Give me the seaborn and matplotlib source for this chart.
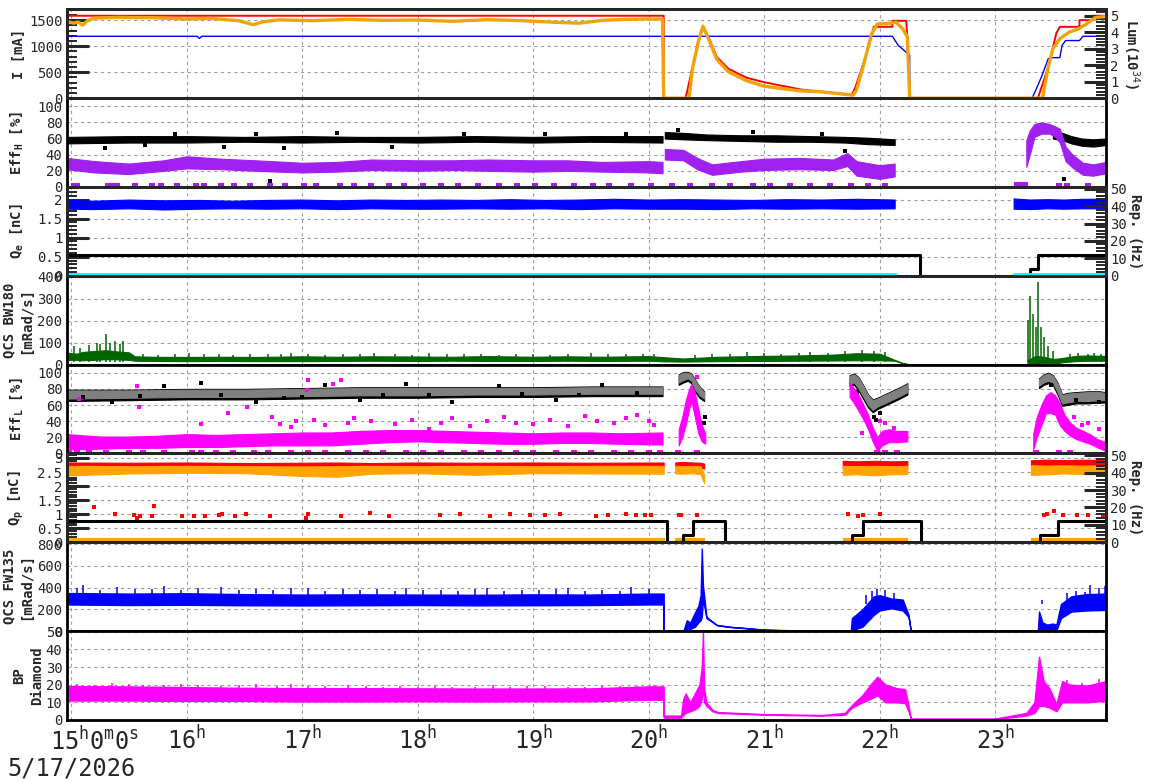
import numpy as np
import pandas as pd
import seaborn as sns
import matplotlib.pyplot as plt
from matplotlib.ticker import MultipleLocator

# time axis in hours (5/17/2026)
t_start, t_end = 14.961, 23.957
hour_ticks = [15, 16, 17, 18, 19, 20, 21, 22, 23]

# ---- panel 1: ring currents [mA] and luminosity [1e34] ----
ler_t = [14.96, 20.13, 20.13, 20.32, 20.38, 20.43, 20.47, 20.53, 20.59, 20.69, 20.85, 21.0, 21.32,
         21.63, 21.76, 21.79, 21.86, 21.92, 21.95, 22.11, 22.11, 22.23, 22.25, 22.26, 23.37, 23.46,
         23.53, 23.56, 23.73, 23.73, 23.85, 23.85, 23.96]
ler_i = [1585, 1585, 0, 0, 597, 1114, 1386, 1114, 791, 566, 391, 306, 165,
         93, 68, 209, 667, 1114, 1372, 1372, 1488, 1488, 800, 0, 0, 597,
         1250, 1372, 1372, 1500, 1500, 1585, 1585]
her_t = [14.96, 16.09, 16.11, 16.13, 22.11, 22.16, 22.26, 22.26, 23.32, 23.35, 23.40, 23.46, 23.49,
         23.56, 23.58, 23.61, 23.73, 23.76, 23.96]
her_i = [1190, 1190, 1147, 1190, 1190, 1018, 824, 0, 0, 145, 403, 760, 779,
         779, 1017, 1108, 1108, 1190, 1190]
lum_t = [14.96, 15.02, 15.06, 15.10, 15.14, 15.20, 15.40, 15.70, 16.00, 16.20, 16.45, 16.58, 16.65,
         16.80, 17.10, 17.40, 17.70, 18.00, 18.30, 18.60, 18.90, 19.20, 19.40, 19.60, 19.80, 20.00,
         20.12, 20.13, 20.35, 20.38, 20.43, 20.47, 20.53, 20.59, 20.69, 20.85, 21.00, 21.30, 21.50,
         21.77, 21.80, 21.86, 21.93, 21.98, 22.11, 22.14, 22.20, 22.24, 22.26, 23.41, 23.46, 23.50,
         23.56, 23.64, 23.72, 23.79, 23.87, 23.96]
lum_v = [4.66, 4.55, 4.62, 4.43, 4.70, 4.85, 4.90, 4.88, 4.80, 4.84, 4.70, 4.45, 4.62,
         4.75, 4.70, 4.78, 4.72, 4.74, 4.66, 4.76, 4.70, 4.60, 4.55, 4.72, 4.78, 4.80,
         4.80, 0.0, 0.0, 1.8, 3.4, 4.37, 3.4, 2.35, 1.6, 1.05, 0.72, 0.45, 0.38,
         0.18, 0.5, 2.0, 3.9, 4.5, 4.55, 4.62, 4.2, 3.72, 0.0, 0.0, 1.89, 3.0,
         3.6, 4.0, 4.2, 4.5, 4.9, 4.95]

# ---- panel 2: Eff_H [%] (black / purple bands) ----
effh_k_t = [[14.96, 15.5, 16.0, 16.5, 17.0, 17.5, 18.0, 18.5, 19.0, 19.5, 20.12],
            [20.14, 20.3, 20.5, 20.8, 21.1, 21.4, 21.7, 21.9, 22.13],
            [23.50, 23.58, 23.66, 23.75, 23.85, 23.96]]
effh_k_lo = [[54, 55, 55, 56, 55, 56, 55, 56, 55, 56, 55],
             [60, 59, 58, 57, 56, 56, 55, 53, 52],
             [60, 58, 54, 51, 50, 52]]
effh_k_hi = [[62, 63, 63, 62, 63, 62, 62, 63, 62, 63, 63],
             [68, 67, 65, 64, 64, 63, 62, 61, 59],
             [69, 67, 63, 60, 59, 60]]
effh_p_t = [[14.96, 15.2, 15.5, 15.8, 16.0, 16.3, 16.6, 17.0, 17.3, 17.6, 18.0, 18.3, 18.6,
             19.0, 19.3, 19.6, 20.0, 20.12],
            [20.14, 20.3, 20.42, 20.55, 20.8, 21.0, 21.3, 21.6, 21.72, 21.8, 22.0, 22.13],
            [23.27, 23.30, 23.34, 23.40, 23.47, 23.52, 23.56, 23.61, 23.67, 23.76, 23.85, 23.96]]
effh_p_lo = [[22, 18, 16, 20, 23, 22, 20, 18, 19, 21, 20, 21, 20, 19, 20, 19, 18, 17],
             [34, 33, 22, 15, 19, 21, 22, 21, 26, 14, 10, 13],
             [25, 40, 62, 66, 66, 62, 55, 32, 24, 15, 14, 17]]
effh_p_hi = [[36, 32, 29, 33, 38, 35, 33, 30, 31, 34, 33, 33, 34, 33, 33, 31, 32, 31],
             [47, 46, 36, 28, 32, 35, 36, 34, 42, 32, 27, 29],
             [58, 70, 78, 80, 78, 75, 72, 50, 40, 30, 28, 31]]
effh_zero_t = [15.02, 15.05, 15.32, 15.36, 15.40, 15.55, 15.70, 15.78, 15.92, 16.08, 16.15,
               16.30, 16.41, 16.55, 16.72, 16.85, 17.02, 17.12, 17.33, 17.45, 17.60, 17.75,
               17.88, 18.05, 18.20, 18.35, 18.52, 18.70, 18.86, 19.02, 19.18, 19.35, 19.52,
               19.66, 19.85, 20.02, 20.20, 20.36, 20.55, 20.70, 20.90, 21.05, 21.22, 21.40,
               21.57, 21.75, 21.90, 22.05, 23.55, 23.62, 23.80]
effh_out_t = [15.29, 15.64, 16.32, 16.84, 17.78, 16.72, 21.70, 23.60, 15.9, 16.6, 17.3, 18.4,
              19.1, 19.8, 20.25, 20.9, 21.5]
effh_out_v = [48, 52, 50, 48, 50, 7, 44, 10, 66, 65, 67, 66, 65, 66, 70, 68, 66]

# ---- panel 3: Q_e [nC] and repetition rate [Hz] ----
qe_t = [[14.96, 15.2, 15.5, 15.8, 16.1, 16.4, 16.7, 17.0, 17.3, 17.6, 17.9, 18.2, 18.5, 18.8,
         19.1, 19.4, 19.7, 20.0, 20.3, 20.6, 20.9, 21.2, 21.5, 21.8, 22.13],
        [23.16, 23.3, 23.45, 23.6, 23.75, 23.96]]
qe_lo = [[1.76, 1.75, 1.77, 1.74, 1.76, 1.77, 1.76, 1.77, 1.75, 1.77, 1.76, 1.76, 1.77, 1.76,
          1.77, 1.75, 1.77, 1.76, 1.76, 1.75, 1.77, 1.76, 1.77, 1.76, 1.77],
         [1.76, 1.75, 1.77, 1.76, 1.77, 1.77]]
qe_hi = [[1.99, 1.97, 2.0, 1.98, 1.99, 1.97, 1.99, 2.0, 1.98, 2.0, 1.99, 2.0, 1.99, 2.01,
          1.99, 2.0, 2.02, 2.0, 2.01, 2.0, 1.99, 2.01, 2.0, 2.02, 2.0],
         [2.03, 2.0, 2.01, 2.0, 2.02, 2.02]]
rep_e_t = [14.96, 22.35, 22.35, 23.30, 23.30, 23.37, 23.37, 23.96]
rep_e_v = [12, 12, 0, 0, 4, 4, 12, 12]
cyan_t = [[14.96, 22.13], [23.16, 23.96]]

# ---- panel 4: QCS BW180 [mRad/s] ----
bw_t = [[14.96, 15.05, 15.1, 15.2, 15.3, 15.4, 15.5, 15.55, 15.7, 16.0, 16.3, 16.6, 17.0, 17.3,
         17.6, 18.0, 18.3, 18.6, 19.0, 19.3, 19.6, 20.0, 20.13, 20.3, 20.6, 21.0, 21.3, 21.6,
         21.8, 22.0, 22.13, 22.2, 22.27, 23.28],
        [23.28, 23.35, 23.42, 23.5, 23.55, 23.6, 23.7, 23.8, 23.96]]
bw_lo = [[22, 22, 20, 22, 25, 24, 22, 18, 17, 16, 17, 16, 16, 17, 18, 17, 18, 17, 17, 18, 17,
          18, 15, 14, 16, 17, 18, 19, 20, 20, 18, 6, 0, 0],
         [0, 5, 6, 5, 8, 12, 16, 18, 18]]
bw_hi = [[55, 50, 58, 62, 66, 60, 56, 38, 36, 35, 36, 35, 38, 36, 38, 37, 36, 39, 36, 38, 36,
          39, 34, 28, 36, 40, 42, 46, 52, 50, 22, 8, 0, 0],
         [20, 40, 36, 26, 28, 32, 40, 42, 40]]
bw_spk_t = [15.02, 15.08, 15.15, 15.22, 15.25, 15.30, 15.34, 15.38, 15.42, 15.45, 15.62, 15.75,
            15.9, 16.02, 16.15, 16.28, 16.4, 16.55, 16.7, 16.82, 16.9, 17.05, 17.2, 17.35,
            17.5, 17.62, 17.8, 17.95, 18.1, 18.25, 18.4, 18.55, 18.7, 18.85, 19.0, 19.15,
            19.3, 19.5, 19.65, 19.8, 19.95, 20.05, 20.4, 20.55, 20.7, 20.85, 21.0, 21.15,
            21.3, 21.4, 21.55, 21.7, 21.85, 21.95, 22.05, 23.287, 23.304, 23.330, 23.353,
            23.373, 23.394, 23.422, 23.460, 23.503, 23.65, 23.72, 23.8, 23.86, 23.92]
bw_spk_v = [85, 75, 88, 100, 95, 140, 100, 110, 95, 110, 48, 46, 50, 55, 47, 49, 46, 50, 47,
            48, 52, 49, 46, 50, 47, 51, 48, 46, 54, 48, 47, 50, 46, 49, 48, 46, 50, 55, 47,
            49, 48, 50, 45, 48, 50, 58, 52, 50, 54, 56, 55, 60, 68, 62, 58, 203, 315, 233, 173,
            375, 173, 128, 87, 60, 50, 52, 48, 55, 50]

# ---- panel 5: Eff_L [%] ----
effl_g_t = [[14.96, 15.5, 16.0, 16.5, 17.0, 17.5, 18.0, 18.5, 19.0, 19.5, 20.12],
            [20.26, 20.30, 20.34, 20.37, 20.40, 20.44, 20.48],
            [21.74, 21.78, 21.82, 21.86, 21.90, 21.94, 21.98, 22.04, 22.10, 22.16, 22.24],
            [23.38, 23.42, 23.46, 23.50, 23.54, 23.58, 23.62, 23.70, 23.80, 23.90, 23.96]]
effl_g_lo = [[68, 69, 70, 70, 71, 72, 72, 73, 73, 74, 74],
             [88, 91, 93, 90, 80, 72, 68],
             [86, 88, 80, 70, 60, 54, 58, 62, 66, 70, 76],
             [84, 88, 90, 88, 76, 62, 63, 65, 65, 66, 66]]
effl_g_hi = [[78, 78, 79, 79, 80, 81, 81, 81, 81, 82, 82],
             [97, 100, 100, 98, 91, 82, 76],
             [96, 98, 93, 83, 72, 66, 68, 72, 76, 80, 86],
             [92, 97, 99, 96, 87, 72, 74, 75, 76, 76, 75]]
effl_m_t = [[14.96, 15.25, 15.5, 15.75, 16.0, 16.25, 16.5, 16.75, 17.0, 17.25, 17.5, 17.75, 18.0,
             18.25, 18.5, 18.75, 19.0, 19.25, 19.5, 19.75, 20.12],
            [20.26, 20.29, 20.32, 20.35, 20.37, 20.40, 20.43, 20.46, 20.49],
            [21.74, 21.78, 21.82, 21.86, 21.90, 21.94, 21.98, 22.02, 22.08, 22.14, 22.24],
            [23.33, 23.36, 23.40, 23.44, 23.48, 23.52, 23.56, 23.60, 23.65, 23.70, 23.76, 23.82,
             23.88, 23.96]]
effl_m_lo = [[5, 6, 7, 7, 8, 8, 9, 10, 10, 10, 12, 14, 15, 14, 13, 12, 12, 13, 13, 12, 11],
             [10, 20, 35, 55, 65, 45, 25, 15, 12],
             [70, 62, 52, 42, 30, 15, 3, 10, 14, 14, 15],
             [5, 20, 35, 50, 50, 48, 35, 28, 22, 18, 15, 12, 8, 3]]
effl_m_hi = [[24, 21, 21, 22, 24, 23, 24, 25, 26, 26, 28, 29, 29, 28, 27, 26, 25, 26, 26, 25, 26],
             [30, 45, 65, 80, 86, 75, 55, 35, 25],
             [88, 80, 72, 60, 48, 32, 20, 28, 30, 28, 28],
             [25, 45, 60, 72, 76, 72, 62, 48, 38, 32, 28, 24, 18, 14]]
effl_mo_t = [15.07, 15.57, 15.59, 16.12, 16.36, 16.52, 16.74, 16.81, 16.9, 16.95, 17.04, 17.05,
             17.1, 17.2, 17.27, 17.34, 17.4, 17.45, 17.6, 17.8, 17.95, 18.1, 18.2, 18.3, 18.45,
             18.6, 18.75, 18.85, 19.0, 19.15, 19.3, 19.45, 19.55, 19.7, 19.8, 19.9, 20.0, 20.05,
             20.3, 20.42, 21.85, 21.92, 22.0, 22.05, 22.12, 23.45, 23.55, 23.62, 23.68, 23.75,
             23.8, 23.9]
effl_mo_v = [68, 83, 58, 37, 50, 58, 45, 37, 33, 40, 78, 91, 42, 35, 86, 91, 38, 44, 40, 36,
             42, 30, 38, 44, 34, 40, 45, 38, 36, 42, 34, 46, 40, 38, 44, 48, 40, 35,
             30, 95, 25, 35, 40, 38, 32, 55, 50, 40, 45, 35, 38, 30]
effl_ko_t = [15.35, 15.8, 16.12, 16.6, 16.84, 17.2, 17.5, 17.9, 18.3, 18.7, 19.2, 19.6, 20.48,
             20.49, 21.80, 21.95, 21.97, 22.0, 23.48, 23.7, 23.9, 15.1, 15.6, 16.3, 17.0,
             17.7, 18.1, 18.9, 19.4, 19.9]
effl_ko_v = [64, 84, 87, 64, 69, 85, 66, 86, 64, 84, 66, 85, 38, 45, 76, 45, 42, 50, 85, 66, 64,
             70, 71, 72, 70, 73, 72, 74, 73, 75]
effl_zero_t = [14.98, 15.05, 15.15, 15.3, 15.5, 15.62, 15.8, 16.05, 16.12, 16.25, 16.4, 16.58,
               16.7, 16.9, 17.05, 17.2, 17.4, 17.55, 17.7, 17.9, 18.05, 18.2, 18.4, 18.55, 18.7,
               18.85, 19.0, 19.2, 19.35, 19.5, 19.7, 19.85, 20.0, 20.1, 20.25, 20.42, 21.98,
               22.05, 22.15, 23.35, 23.55, 23.65]

# ---- panel 6: Q_p [nC] and repetition rate [Hz] ----
qp_seg = [[14.96, 15.5, 16.0, 16.5, 17.0, 17.3, 17.6, 18.0, 18.5, 19.0, 19.5, 20.13],
          [20.23, 20.30, 20.38, 20.45, 20.48],
          [21.68, 21.8, 21.95, 22.1, 22.24],
          [23.31, 23.45, 23.6, 23.75, 23.96]]
qp_r_lo = [[2.66, 2.67, 2.66, 2.67, 2.66, 2.66, 2.67, 2.66, 2.67, 2.66, 2.67, 2.66],
           [2.66, 2.67, 2.66, 2.66, 2.62],
           [2.66, 2.67, 2.66, 2.67, 2.66],
           [2.68, 2.69, 2.68, 2.69, 2.68]]
qp_r_hi = [[2.84, 2.83, 2.84, 2.82, 2.83, 2.84, 2.82, 2.84, 2.83, 2.84, 2.83, 2.84],
           [2.84, 2.86, 2.84, 2.83, 2.80],
           [2.90, 2.88, 2.90, 2.88, 2.89],
           [2.92, 2.94, 2.92, 2.94, 2.93]]
qp_o_lo = [[2.38, 2.45, 2.47, 2.46, 2.36, 2.33, 2.44, 2.46, 2.40, 2.46, 2.45, 2.44],
           [2.45, 2.44, 2.46, 2.42, 2.10],
           [2.40, 2.42, 2.38, 2.42, 2.43],
           [2.40, 2.42, 2.45, 2.43, 2.42]]
qp_o_hi = [[2.72, 2.71, 2.72, 2.71, 2.70, 2.71, 2.72, 2.71, 2.72, 2.71, 2.72, 2.72],
           [2.72, 2.71, 2.72, 2.70, 2.40],
           [2.72, 2.71, 2.72, 2.71, 2.72],
           [2.74, 2.73, 2.74, 2.73, 2.74]]
qp_low_lo = 0.03
qp_low_hi = 0.15
qp_red_t = [14.97, 15.2, 15.38, 15.54, 15.57, 15.6, 15.7, 15.72, 15.96, 16.06, 16.16, 16.28,
            16.31, 16.42, 16.51, 16.72, 17.03, 17.05, 17.34, 17.59, 17.75, 18.19, 18.37, 18.63,
            18.80, 18.97, 19.10, 19.23, 19.54, 19.65, 19.80, 19.89, 19.97, 20.02, 20.26, 20.28,
            20.42, 21.73, 21.81, 21.86, 22.0, 23.42, 23.45, 23.51, 23.59, 23.71, 23.80, 23.93]
qp_red_v = [1.02, 1.24, 1.0, 0.98, 0.85, 0.92, 0.92, 1.3, 0.95, 0.93, 0.95, 0.98, 1.0, 0.95,
            1.02, 0.92, 0.88, 1.0, 0.95, 1.05, 0.92, 0.97, 1.0, 0.95, 1.02, 0.96, 0.98, 1.0,
            0.95, 0.96, 1.0, 0.96, 0.98, 0.96, 0.97, 0.97, 0.96, 1.0, 0.94, 0.96, 1.0, 0.96,
            1.0, 1.12, 0.98, 0.96, 0.96, 0.96]
rep_p_t = [14.96, 20.16, 20.16, 20.30, 20.30, 20.38, 20.38, 20.66, 20.66, 21.76, 21.76, 21.86,
           21.86, 22.36, 22.36, 23.39, 23.39, 23.54, 23.54, 23.96]
rep_p_v = [12, 12, 0, 0, 4, 4, 12, 12, 0, 0, 4, 4, 12, 12, 0, 0, 4, 4, 12, 12]

# ---- panel 7: QCS FW135 [mRad/s] ----
fw_t = [14.96, 15.5, 16.0, 16.5, 17.0, 17.5, 18.0, 18.5, 19.0, 19.5, 20.0, 20.13, 20.13, 20.30,
        20.33, 20.36, 20.40, 20.43, 20.45, 20.46, 20.47, 20.50, 20.53, 20.59, 20.69, 20.84, 21.0,
        21.16, 21.4, 21.6, 21.75, 21.76, 21.85, 21.95, 22.0, 22.1, 22.2, 22.25, 22.27, 23.37,
        23.38, 23.41, 23.45, 23.50, 23.53, 23.57, 23.66, 23.79, 23.96]
fw_lo = [245, 240, 242, 238, 236, 238, 240, 237, 238, 240, 245, 245, 0, 0,
         10, 20, 40, 80, 100, 130, 300, 120, 100, 55, 39, 27, 12,
         9, 5, 3, 2, 10, 40, 150, 190, 210, 190, 130, 0, 0,
         0, 5, 10, 8, 5, 120, 180, 190, 195]
fw_hi = [350, 345, 348, 340, 336, 338, 336, 334, 338, 336, 345, 345, 0, 0,
         100, 80, 170, 230, 330, 758, 420, 135, 105, 58, 42, 29, 14,
         10, 6, 4, 3, 120, 200, 320, 330, 300, 290, 150, 0, 0,
         180, 80, 60, 70, 60, 250, 320, 340, 345]
fw_spk_t = [15.05, 15.1, 15.25, 15.4, 15.55, 15.7, 15.8, 15.95, 16.1, 16.3, 16.45, 16.6,
            16.75, 16.9, 17.05, 17.2, 17.35, 17.5, 17.65, 17.8, 17.9, 18.05, 18.2, 18.35,
            18.5, 18.6, 18.75, 18.9, 19.05, 19.2, 19.3, 19.45, 19.6, 19.75, 19.85, 20.0,
            21.88, 21.93, 21.98, 22.05, 22.12, 23.41, 23.62, 23.7, 23.78, 23.82, 23.9, 23.95]
fw_spk_v = [395, 420, 380, 410, 385, 390, 415, 380, 400, 405, 375, 385, 380, 395, 400, 372,
            385, 378, 390, 370, 395, 375, 380, 370, 385, 400, 372, 380, 376, 385, 395, 370,
            380, 372, 405, 385, 330, 370, 390, 380, 350, 284, 350, 370, 360, 420, 400, 415]

# ---- panel 8: BP Diamond ----
bp_t = [14.96, 15.5, 16.0, 16.5, 17.0, 17.5, 18.0, 18.5, 19.0, 19.5, 20.0, 20.13, 20.13, 20.28,
        20.30, 20.32, 20.36, 20.40, 20.44, 20.46, 20.47, 20.48, 20.50, 20.55, 20.6, 21.0, 21.5,
        21.7, 21.76, 21.85, 21.92, 21.98, 22.05, 22.15, 22.22, 22.25, 22.27, 23.0, 23.27, 23.34,
        23.38, 23.42, 23.47, 23.53, 23.58, 23.65, 23.8, 23.96]
bp_lo = [11.0, 11.0, 10.8, 10.8, 10.5, 10.5, 10.6, 10.5, 10.6, 10.6, 11.5, 11.5, 1.3, 1.3,
         3.0, 4.0, 5.0, 6.0, 8.0, 12.0, 20.0, 10.0, 8.0, 5.0, 4.0, 3.0, 2.5,
         3.0, 7.0, 10.0, 12.0, 14.0, 10.0, 10.0, 9.5, 5.0, 0.5, 0.5, 2.5, 4.0,
         8.0, 8.0, 7.0, 5.0, 10.0, 10.0, 10.0, 11.0]
bp_hi = [19.2, 19.0, 18.6, 18.2, 18.0, 18.0, 17.9, 17.8, 17.8, 17.9, 19.0, 19.0, 2.5, 2.5,
         12.0, 15.0, 10.0, 15.0, 20.0, 30.0, 50.0, 18.0, 10.0, 5.8, 4.5, 3.3, 2.8,
         4.0, 8.5, 14.0, 20.0, 24.5, 20.0, 18.0, 17.5, 8.0, 0.8, 0.8, 4.0, 10.0,
         35.8, 22.0, 18.0, 9.0, 22.0, 20.0, 19.5, 22.0]
bp_spk_t = [15.05, 15.2, 15.35, 15.5, 15.62, 15.8, 15.95, 16.1, 16.3, 16.45, 16.6, 16.78,
            16.9, 17.05, 17.2, 17.4, 17.55, 17.7, 17.85, 18.0, 18.15, 18.3, 18.5, 18.65, 18.8,
            18.95, 19.1, 19.3, 19.45, 19.6, 19.75, 19.9, 20.05, 23.62, 23.75, 23.9]
bp_spk_v = [20.5, 20.0, 21.2, 20.4, 20.0, 19.8, 20.2, 19.6, 19.4, 19.8, 20.2, 19.5, 20.4, 19.2,
            19.0, 19.6, 19.2, 18.8, 19.2, 18.9, 19.4, 18.8, 18.9, 19.6, 18.8, 19.0, 19.2, 18.9,
            18.8, 19.3, 19.0, 19.5, 19.8, 22.5, 21.0, 23.0]

sns.set_theme(style='white')
plt.rcParams['font.family'] = ['DejaVu Sans Mono', 'DejaVu Sans']
plt.rcParams['mathtext.fontset'] = 'custom'
plt.rcParams['mathtext.rm'] = 'DejaVu Sans Mono'
plt.rcParams['mathtext.it'] = 'DejaVu Sans Mono'
plt.rcParams['mathtext.bf'] = 'DejaVu Sans Mono:bold'

fig, axes = plt.subplots(8, 1, sharex=True, figsize=(11.72, 7.82), dpi=100)
fig.subplots_adjust(left=0.0569, right=0.9434, top=0.9881, bottom=0.0793, hspace=0)

RED, ORANGE, BLUE = '#ff0000', '#f0a30a', '#0000ff'
PURPLE, MAGENTA, GREEN = '#a020f0', '#ff00ff', '#006400'


def line(ax, t, v, color, lw):
    sns.lineplot(x=t, y=v, color=color, linewidth=lw, estimator=None, sort=False,
                 ax=ax, legend=False)


def dots(ax, t, v, color, s=9):
    sns.scatterplot(x=t, y=v, color=color, marker='s', s=s, linewidth=0, ax=ax, legend=False)


def band(ax, t, lo, hi, color, lw=0.8):
    ax.fill_between(t, lo, hi, color=color, linewidth=lw, edgecolor=color)


def style(ax, ylim, ticks, labels, minor, ylabel, lx=-0.039):
    ax.set_ylim(*ylim)
    ax.set_yticks(ticks)
    ax.set_yticklabels(labels)
    ax.yaxis.set_minor_locator(MultipleLocator(minor))
    ax.tick_params(axis='y', which='major', direction='in', length=16, width=2.2,
                   labelsize=10, pad=3, right=False)
    ax.tick_params(axis='y', which='minor', direction='in', length=7, width=1.4, right=False)
    ax.tick_params(axis='x', which='major', direction='in', length=7, width=2, top=False)
    ax.tick_params(axis='x', which='minor', direction='in', length=3.5, width=1.4, top=False)
    ax.grid(True, which='major', color='#a0a0a0', linestyle=(0, (3, 3)), linewidth=0.8)
    for sp in ax.spines.values():
        sp.set_linewidth(2)
        sp.set_color('black')
    ax.set_ylabel(ylabel, fontsize=10, fontweight='bold', linespacing=1.3)
    ax.yaxis.set_label_coords(lx, 0.5)


def right_axis(ax, ylim, ticks, minor, label):
    r = ax.twinx()
    r.set_ylim(*ylim)
    r.set_yticks(ticks)
    r.yaxis.set_minor_locator(MultipleLocator(minor))
    r.tick_params(axis='y', which='major', direction='in', length=16, width=2.2,
                  labelsize=10, pad=3)
    r.tick_params(axis='y', which='minor', direction='in', length=7, width=1.4)
    r.set_ylabel(label, fontsize=10, fontweight='bold', rotation=270)
    r.yaxis.set_label_coords(1.035, 0.5)
    r.grid(False)
    for sp in r.spines.values():
        sp.set_linewidth(2)
    return r


# panel 1
ax = axes[0]
style(ax, (0, 1709), [0, 500, 1000, 1500], ['0', '500', '1000', '1500'], 100, 'I [mA]')
axr = right_axis(ax, (0, 5.39), [0, 1, 2, 3, 4, 5], 0.2, 'Lum(10$^{34}$)')
line(axr, lum_t, lum_v, ORANGE, 2.4)
line(ax, ler_t, ler_i, RED, 1.4)
line(ax, her_t, her_i, BLUE, 1.0)

# panel 2
ax = axes[1]
style(ax, (0, 110), [0, 20, 40, 60, 80, 100], ['0', '20', '40', '60', '80', '100'], 4,
      'Eff$_\\mathbf{H}$ [%]')
for t, lo, hi in zip(effh_k_t, effh_k_lo, effh_k_hi):
    band(ax, t, lo, hi, 'black')
for t, lo, hi in zip(effh_p_t, effh_p_lo, effh_p_hi):
    band(ax, t, lo, hi, PURPLE)
dots(ax, effh_zero_t, [0.6] * len(effh_zero_t), PURPLE, 14)
dots(ax, effh_out_t, effh_out_v, 'black', 9)
band(ax, [23.16, 23.28], [0, 0], [6, 6], PURPLE)

# panel 3
ax = axes[2]
style(ax, (0, 2.33), [0, 0.5, 1, 1.5, 2], ['0', '0.5', '1', '1.5', '2'], 0.1,
      'Q$_\\mathbf{e}$ [nC]')
for t, lo, hi in zip(qe_t, qe_lo, qe_hi):
    band(ax, t, lo, hi, BLUE)
axr = right_axis(ax, (0, 51), [0, 10, 20, 30, 40, 50], 2, 'Rep. (Hz)')
line(axr, rep_e_t, rep_e_v, 'black', 2.2)
for t in cyan_t:
    line(axr, t, [0.7, 0.7], '#00ffff', 3.5)

# panel 4
ax = axes[3]
style(ax, (0, 405), [0, 100, 200, 300, 400], ['0', '100', '200', '300', '400'], 20,
      'QCS BW180\n[mRad/s]', -0.032)
for t, lo, hi in zip(bw_t, bw_lo, bw_hi):
    band(ax, t, lo, hi, GREEN)
ax.vlines(bw_spk_t, 10, bw_spk_v, color=GREEN, linewidth=1.1)

# panel 5
ax = axes[4]
style(ax, (0, 110), [0, 20, 40, 60, 80, 100], ['0', '20', '40', '60', '80', '100'], 4,
      'Eff$_\\mathbf{L}$ [%]')
for t, lo, hi in zip(effl_g_t, effl_g_lo, effl_g_hi):
    band(ax, t, [v - 3 for v in lo], [v + 1 for v in hi], 'black')
    band(ax, t, lo, hi, '#808080')
dots(ax, effl_ko_t, effl_ko_v, 'black', 10)
for t, lo, hi in zip(effl_m_t, effl_m_lo, effl_m_hi):
    band(ax, t, lo, hi, MAGENTA)
dots(ax, effl_mo_t, effl_mo_v, MAGENTA, 12)
dots(ax, effl_zero_t, [0.6] * len(effl_zero_t), MAGENTA, 14)

# panel 6
ax = axes[5]
style(ax, (0, 3.16), [0, 0.5, 1, 1.5, 2, 2.5, 3], ['0', '0.5', '1', '1.5', '2', '2.5', '3'],
      0.1, 'Q$_\\mathbf{p}$ [nC]')
for t, lo, hi in zip(qp_seg, qp_r_lo, qp_r_hi):
    band(ax, t, lo, hi, RED)
for t, lo, hi in zip(qp_seg, qp_o_lo, qp_o_hi):
    band(ax, t, lo, hi, '#ffa500')
for t in qp_seg:
    band(ax, [t[0], t[-1]], [qp_low_lo] * 2, [qp_low_hi] * 2, '#ffa500')
dots(ax, qp_red_t, qp_red_v, RED, 10)
axr = right_axis(ax, (0, 51), [0, 10, 20, 30, 40, 50], 2, 'Rep. (Hz)')
line(axr, rep_p_t, rep_p_v, 'black', 2.2)

# panel 7
ax = axes[6]
style(ax, (0, 816), [0, 200, 400, 600, 800], ['0', '200', '400', '600', '800'], 40,
      'QCS FW135\n[mRad/s]', -0.032)
band(ax, fw_t, fw_lo, fw_hi, BLUE, 1.0)
ax.vlines(fw_spk_t, 250, fw_spk_v, color=BLUE, linewidth=1.1)

# panel 8
ax = axes[7]
style(ax, (0, 50.3), [0, 10, 20, 30, 40, 50], ['0', '10', '20', '30', '40', '50'], 2,
      'BP\nDiamond', -0.022)
band(ax, bp_t, bp_lo, bp_hi, MAGENTA, 1.0)
ax.vlines(bp_spk_t, 12, bp_spk_v, color=MAGENTA, linewidth=1.1)

# shared time axis
ax.set_xlim(t_start, t_end)
ax.set_xticks(hour_ticks)
ax.set_xticklabels([''] + ['%d$^{\\mathrm{h}}$' % h for h in hour_ticks[1:]])
ax.xaxis.set_minor_locator(MultipleLocator(1 / 3))
ax.tick_params(axis='x', which='major', labelsize=17, pad=4)
fig.text(50 / 1172, 1 - 741 / 782, '15$^{\\mathrm{h}}$0$^{\\mathrm{m}}$0$^{\\mathrm{s}}$',
         ha='left', va='center', fontsize=17)
fig.text(7 / 1172, 1 - 769 / 782, '5/17/2026', ha='left', va='center', fontsize=17)

fig.savefig('out.png', dpi=100)
